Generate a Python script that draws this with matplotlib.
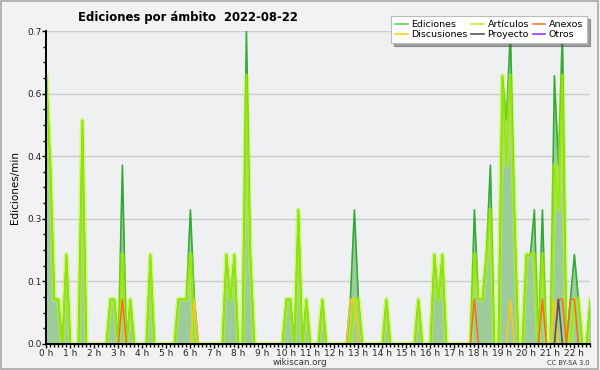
import numpy as np
import matplotlib
matplotlib.use("Agg")
from matplotlib import pyplot as plt
from matplotlib.patches import Rectangle

# edits per minute, one value per 10-minute slot (0:00 .. 22:40)
ediciones = [
    0.6, 0.4, 0.1, 0.1, 0, 0.2, 0, 0, 0, 0.5, 0, 0,
    0, 0, 0, 0, 0.1, 0.1, 0, 0.4, 0, 0.1, 0, 0,
    0, 0, 0.2, 0, 0, 0, 0, 0, 0, 0.1, 0.1, 0.1,
    0.3, 0.1, 0, 0, 0, 0, 0, 0, 0, 0.2, 0.1, 0.2,
    0, 0, 0.7, 0.2, 0, 0, 0, 0, 0, 0, 0, 0,
    0.1, 0.1, 0, 0.3, 0, 0.1, 0, 0, 0, 0.1, 0, 0,
    0, 0, 0, 0, 0.1, 0.3, 0.1, 0, 0, 0, 0, 0,
    0, 0.1, 0, 0, 0, 0, 0, 0, 0, 0.1, 0, 0,
    0, 0.2, 0.1, 0.2, 0, 0, 0, 0, 0, 0, 0, 0.3,
    0.1, 0.1, 0.2, 0.4, 0, 0, 0.6, 0.5, 0.7, 0.3, 0, 0,
    0.2, 0.2, 0.3, 0, 0.3, 0, 0, 0.6, 0.4, 0.7, 0, 0.1,
    0.2, 0.1, 0, 0, 0.1,
]
articulos = [
    0.6, 0.4, 0.1, 0.1, 0, 0.2, 0, 0, 0, 0.5, 0, 0,
    0, 0, 0, 0, 0.1, 0.1, 0, 0.2, 0, 0.1, 0, 0,
    0, 0, 0.2, 0, 0, 0, 0, 0, 0, 0.1, 0.1, 0.1,
    0.2, 0, 0, 0, 0, 0, 0, 0, 0, 0.2, 0.1, 0.2,
    0, 0, 0.6, 0.2, 0, 0, 0, 0, 0, 0, 0, 0,
    0.1, 0.1, 0, 0.3, 0, 0.1, 0, 0, 0, 0.1, 0, 0,
    0, 0, 0, 0, 0, 0.1, 0.1, 0, 0, 0, 0, 0,
    0, 0.1, 0, 0, 0, 0, 0, 0, 0, 0.1, 0, 0,
    0, 0.2, 0.1, 0.2, 0, 0, 0, 0, 0, 0, 0, 0.2,
    0.1, 0.1, 0.2, 0.3, 0, 0, 0.6, 0.4, 0.6, 0.3, 0, 0,
    0.2, 0.2, 0.2, 0, 0.2, 0, 0, 0.4, 0.3, 0.6, 0, 0,
    0.1, 0.1, 0, 0, 0.1,
]
# sparse series: slot index -> value
discusiones = {37: 0.1, 76: 0.1, 77: 0.1, 116: 0.1, 127: 0.1}
anexos = {19: 0.1, 107: 0.1, 124: 0.1, 128: 0.1, 129: 0.1, 131: 0.1, 132: 0.1}
proyecto = {128: 0.1}
otros = {}

hour_labels = [f"{h} h" for h in range(23)]

n = len(ediciones)
t = np.arange(n) / 6.0


def dense(d):
    arr = np.zeros(n)
    for k, v in d.items():
        arr[k] = v
    return arr


fig = plt.figure(figsize=(6, 3.7), dpi=100, facecolor="#f2f2f2")
fig.patches.append(Rectangle((0.002, 0.003), 0.995, 0.994, transform=fig.transFigure,
                             fill=False, edgecolor="#a8a8a8", lw=1.2))
ax = fig.add_axes([0.0773, 0.0703, 0.9067, 0.8459], facecolor="#eef0f2")

ymax = 0.7
ax.set_xlim(0, t[-1])
ax.set_ylim(0, ymax)

ax.fill_between(t, ediciones, color="#9ccb9c", lw=0, zorder=1)
ax.plot(t, ediciones, color="#33aa33", lw=1.2, zorder=2)
ax.plot(t, articulos, color="#b4ff10", lw=3.6, alpha=0.45, zorder=3)
ax.plot(t, articulos, color="#99e600", lw=1.0, zorder=3)
ax.plot(t, dense(discusiones), color="#ffc61a", lw=1.1, zorder=4)
ax.plot(t, dense(anexos), color="#ff6a1a", lw=1.1, zorder=4)
ax.plot(t, dense(proyecto), color="#555555", lw=1.1, zorder=5)
ax.plot(t, dense(otros), color="#9933ff", lw=1.1, zorder=1.5)

# wikiscan style grid: five equal steps up to the max
yt = np.linspace(0, ymax, 6)
ax.set_yticks(yt)
ax.set_yticklabels([f"{v:.1f}" for v in yt])
ax.set_yticks(np.linspace(0, ymax, 21), minor=True)
ax.yaxis.grid(True, color="#cccccc", lw=1)
ax.set_axisbelow(True)

ax.set_xticks(range(23))
ax.set_xticklabels(hour_labels)
ax.set_xticks(t, minor=True)

ax.tick_params(axis="both", which="major", labelsize=6.5, length=3, width=1, color="black",
               labelcolor="#222222", pad=0.5)
ax.tick_params(axis="both", which="minor", length=2.5, width=1, color="black")

for s in ["top", "right"]:
    ax.spines[s].set_visible(False)
for s in ["left", "bottom"]:
    ax.spines[s].set_linewidth(1.4)
    ax.spines[s].set_zorder(6)

ax.set_ylabel("Ediciones/min", fontsize=7.5, labelpad=5)

fig.text(0.313, 0.953, "Ediciones por ámbito  2022-08-22", fontsize=8.4,
         fontweight="bold", ha="center", va="center")
fig.text(0.5, 0.02, "wikiscan.org", fontsize=6.3, ha="center", va="center", color="#333333")
fig.text(0.983, 0.02, "CC BY-SA 3.0", fontsize=4.8, ha="right", va="center", color="#333333")

handles = [
    plt.Line2D([], [], color="#66cc66", lw=1.2),
    plt.Line2D([], [], color="#ffcc22", lw=1.2),
    plt.Line2D([], [], color="#bbee33", lw=1.2),
    plt.Line2D([], [], color="#555555", lw=1.2),
    plt.Line2D([], [], color="#ff7733", lw=1.2),
    plt.Line2D([], [], color="#9933ff", lw=1.2),
]
names = ["Ediciones", "Discusiones", "Artículos", "Proyecto", "Anexos", "Otros"]
leg = fig.legend(handles, names, loc="upper right", bbox_to_anchor=(0.987, 0.97), ncol=3,
                 fontsize=6.8, frameon=True, fancybox=False, shadow=True, handlelength=1.3,
                 handletextpad=0.4, columnspacing=0.4, labelspacing=0.1, borderpad=0.45)
leg.get_frame().set_edgecolor("#bbbbbb")
leg.get_frame().set_facecolor("white")
leg.get_frame().set_linewidth(0.8)

fig.savefig("out.png", dpi=100, facecolor=fig.get_facecolor())
